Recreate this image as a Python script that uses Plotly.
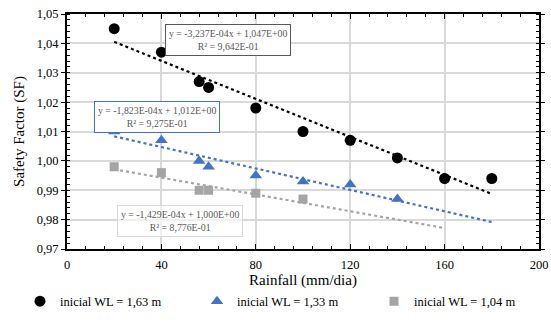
import plotly.graph_objects as go

rain_163 = [20, 40, 56, 60, 80, 100, 120, 140, 160, 180]
sf_163 = [1.045, 1.037, 1.027, 1.025, 1.018, 1.010, 1.007, 1.001, 0.994, 0.994]
rain_133 = [20, 40, 56, 60, 80, 100, 120, 140]
sf_133 = [1.010, 1.007, 1.000, 0.998, 0.995, 0.993, 0.992, 0.987]
rain_104 = [20, 40, 56, 60, 80, 100]
sf_104 = [0.998, 0.996, 0.990, 0.990, 0.989, 0.987]

# trendline coefficients (slope, intercept) and extent
trend_163 = (-3.237e-4, 1.047, 20, 180)
trend_133 = (-1.823e-4, 1.012, 20, 180)
trend_104 = (-1.429e-4, 1.000, 20, 160)
labels = ["inicial WL = 1,63 m", "inicial WL = 1,33 m", "inicial WL = 1,04 m"]
eq_texts = ["y = -3,237E-04x + 1,047E+00<br>R² = 9,642E-01",
            "y = -1,823E-04x + 1,012E+00<br>R² = 9,275E-01",
            "y = -1,429E-04x + 1,000E+00<br>R² = 8,776E-01"]

BLACK = "#000000"
BLUE = "#4472C4"
GRAY = "#A5A5A5"
FONT = "Times New Roman, Liberation Serif, DejaVu Serif, serif"

fig = go.Figure()

def trend(tr, color, width):
    m, b, x0, x1 = tr
    xs = [x0, x1]
    ys = [m * x + b for x in xs]
    fig.add_trace(go.Scatter(x=xs, y=ys, mode="lines", showlegend=False,
                             line=dict(color=color, width=width, dash="dot"),
                             hoverinfo="skip"))

trend(trend_163, BLACK, 2.2)
trend(trend_133, BLUE, 2.2)
trend(trend_104, GRAY, 2.2)

fig.add_trace(go.Scatter(x=rain_163, y=sf_163, mode="markers", name=labels[0],
                         marker=dict(symbol="circle", size=11, color=BLACK)))
fig.add_trace(go.Scatter(x=rain_133, y=sf_133, mode="markers", name=labels[1],
                         marker=dict(symbol="triangle-up", size=11, color=BLUE)))
fig.add_trace(go.Scatter(x=rain_104, y=sf_104, mode="markers", name=labels[2],
                         marker=dict(symbol="square", size=9, color=GRAY)))

ann_font = dict(family=FONT, size=9.8, color="#595959")
fig.add_annotation(x=68.3, y=1.0412, xref="x", yref="y", text=eq_texts[0],
                   showarrow=False, font=ann_font, bordercolor="#595959",
                   borderwidth=1, borderpad=3, bgcolor="white", align="center")
fig.add_annotation(x=38.3, y=1.0151, xref="x", yref="y", text=eq_texts[1],
                   showarrow=False, font=ann_font, bordercolor=BLUE,
                   borderwidth=1, borderpad=3, bgcolor="white", align="center")
fig.add_annotation(x=47.8, y=0.9795, xref="x", yref="y", text=eq_texts[2],
                   showarrow=False, font=ann_font, bordercolor="#D9D9D9",
                   borderwidth=1, borderpad=3, bgcolor="rgba(255,255,255,0.6)", align="center")

fig.update_layout(
    width=551, height=327,
    margin=dict(l=67, r=12, t=14, b=77),
    paper_bgcolor="white", plot_bgcolor="white",
    separators=",.",
    font=dict(family=FONT, size=12.5, color="#000000"),
    showlegend=True,
    legend=dict(orientation="h", x=-0.095, xanchor="left", y=-0.155, yanchor="top",
                font=dict(family=FONT, size=12.5), entrywidth=132, entrywidthmode="pixels",
                itemwidth=30, tracegroupgap=0, itemclick=False),
    xaxis=dict(range=[0, 200], dtick=40, tick0=0, showgrid=True, gridcolor="#D9D9D9",
               gridwidth=1.5, showline=True, linecolor="black", linewidth=2, mirror="ticks",
               ticks="inside", ticklen=5, tickcolor="black", zeroline=False, automargin=False,
               ticklabelstandoff=3,
               minor=dict(dtick=8, ticks="inside", ticklen=3, tickcolor="black", showgrid=False),
               title=dict(text="Rainfall (mm/dia)", font=dict(family=FONT, size=15), standoff=3),
               tickfont=dict(family=FONT, size=12.5)),
    yaxis=dict(range=[0.97, 1.05], dtick=0.01, tick0=0.97, tickformat=".2f", showgrid=True,
               gridcolor="#D9D9D9", gridwidth=1.5, showline=True, linecolor="black", linewidth=2,
               mirror="ticks", ticks="outside", ticklen=4, tickcolor="black", zeroline=False,
               automargin=False,
               minor=dict(dtick=0.002, ticks="inside", ticklen=3, tickcolor="black", showgrid=False),
               title=dict(text="Safety Factor (SF)", font=dict(family=FONT, size=15), standoff=8),
               tickfont=dict(family=FONT, size=12.5)),
)

fig.write_html("out.html", config={"displayModeBar": False},
               post_script="document.body.style.margin='0';document.body.style.padding='0';")
